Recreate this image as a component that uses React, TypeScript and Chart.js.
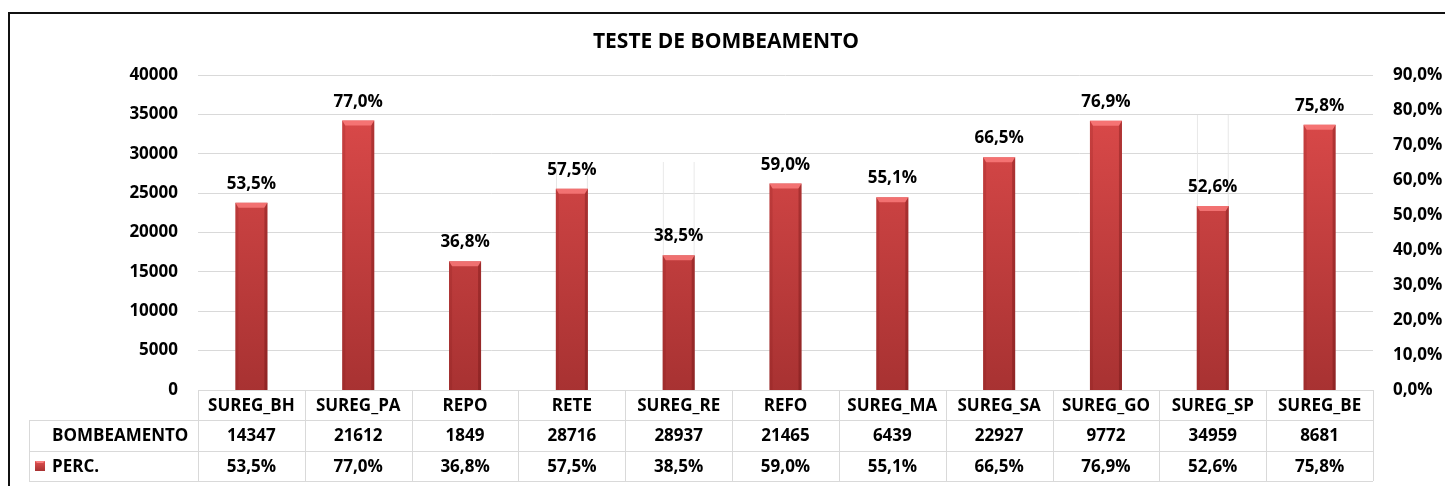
import React, { useEffect, useRef } from "react";
import { Chart, registerables } from "chart.js";

Chart.register(...registerables);

const title = "TESTE DE BOMBEAMENTO";
const categories = [
  "SUREG_BH", "SUREG_PA", "REPO", "RETE", "SUREG_RE", "REFO",
  "SUREG_MA", "SUREG_SA", "SUREG_GO", "SUREG_SP", "SUREG_BE",
];
const seriesNames = ["BOMBEAMENTO", "PERC."];
const bombeamento = [14347, 21612, 1849, 28716, 28937, 21465, 6439, 22927, 9772, 34959, 8681];
const perc = [53.5, 77.0, 36.8, 57.5, 38.5, 59.0, 55.1, 66.5, 76.9, 52.6, 75.8];
const leftAxis = { min: 0, max: 40000, step: 5000 };
const rightAxis = { min: 0, max: 90, step: 10 };

const FONT = '"Open Sans", "DejaVu Sans", sans-serif';
const fmtPct = (v: number) => v.toFixed(1).replace(".", ",") + "%";

export default function App() {
  const ref = useRef<HTMLCanvasElement>(null);

  useEffect(() => {
    let chart: Chart | null = null;
    let cancelled = false;

    const build = () => {
      if (cancelled || !ref.current) return;

      const framePlugin = {
        id: "frame",
        beforeDraw(c: any) {
          const ctx = c.ctx;
          ctx.save();
          ctx.fillStyle = "#ffffff";
          ctx.fillRect(0, 0, c.width, c.height);
          ctx.restore();
        },
        afterDraw(c: any) {
          const ctx = c.ctx;
          const xs = c.scales.x;
          const area = c.chartArea;
          ctx.save();
          // outer chart border
          ctx.fillStyle = "#111111";
          ctx.fillRect(8, 12, 2, c.height - 12);
          ctx.fillRect(8, 12, c.width - 8, 2);
          // title
          ctx.fillStyle = "#000";
          ctx.font = `bold 21px ${FONT}`;
          ctx.textAlign = "center";
          ctx.textBaseline = "middle";
          ctx.fillText(title, 726, 42);

          // data table
          const n = categories.length;
          const colW = (xs.right - xs.left) / n;
          const rows = [area.bottom, area.bottom + 30, area.bottom + 61, area.bottom + 91];
          const labelLeft = 29;
          ctx.strokeStyle = "#d9d9d9";
          ctx.lineWidth = 1;
          ctx.beginPath();
          for (let k = 0; k <= n; k++) {
            const x = Math.round(xs.left + k * colW) + 0.5;
            ctx.moveTo(x, rows[0]);
            ctx.lineTo(x, rows[3]);
          }
          ctx.moveTo(labelLeft + 0.5, rows[1]);
          ctx.lineTo(labelLeft + 0.5, rows[3]);
          for (let r = 1; r < 4; r++) {
            ctx.moveTo(labelLeft, rows[r] + 0.5);
            ctx.lineTo(xs.right, rows[r] + 0.5);
          }
          ctx.moveTo(xs.left, rows[0] + 0.5);
          ctx.lineTo(xs.right, rows[0] + 0.5);
          ctx.stroke();

          ctx.font = `bold 17px ${FONT}`;
          ctx.fillStyle = "#000";
          ctx.textBaseline = "middle";
          ctx.textAlign = "center";
          for (let i = 0; i < n; i++) {
            const cx = xs.getPixelForValue(i);
            ctx.fillText(categories[i], cx, (rows[0] + rows[1]) / 2 + 1);
            ctx.fillText(String(bombeamento[i]), cx, (rows[1] + rows[2]) / 2 + 1);
            ctx.fillText(fmtPct(perc[i]), cx, (rows[2] + rows[3]) / 2 + 1);
          }
          ctx.textAlign = "left";
          ctx.fillText(seriesNames[0], 52, (rows[1] + rows[2]) / 2 + 1);
          ctx.fillText(seriesNames[1], 52, (rows[2] + rows[3]) / 2 + 1);
          // legend key for PERC
          const ky = Math.round((rows[2] + rows[3]) / 2) - 5;
          const g = ctx.createLinearGradient(0, ky, 0, ky + 10);
          g.addColorStop(0, "#e05050");
          g.addColorStop(1, "#a83232");
          ctx.fillStyle = g;
          ctx.fillRect(35, ky, 10, 10);
          ctx.fillStyle = "rgba(255,140,140,0.8)";
          ctx.beginPath();
          ctx.moveTo(35, ky);
          ctx.lineTo(45, ky);
          ctx.lineTo(43, ky + 2);
          ctx.lineTo(37, ky + 2);
          ctx.closePath();
          ctx.fill();
          ctx.restore();
        },
      };

      const barDecor = {
        id: "barDecor",
        afterDatasetsDraw(c: any) {
          const ctx = c.ctx;
          const meta = c.getDatasetMeta(0);
          ctx.save();
          meta.data.forEach((el: any, i: number) => {
            const p = el.getProps(["x", "y", "base", "width"], true);
            const x0 = p.x - p.width / 2;
            const x1 = p.x + p.width / 2;
            const yt = p.y;
            const yb = p.base;
            const b = 5;
            const s = 3;
            // top bevel
            ctx.fillStyle = "rgba(255,130,130,0.75)";
            ctx.beginPath();
            ctx.moveTo(x0, yt);
            ctx.lineTo(x1, yt);
            ctx.lineTo(x1 - s, yt + b);
            ctx.lineTo(x0 + s, yt + b);
            ctx.closePath();
            ctx.fill();
            // left side
            ctx.fillStyle = "rgba(120,20,20,0.18)";
            ctx.beginPath();
            ctx.moveTo(x0, yt);
            ctx.lineTo(x0 + s, yt + b);
            ctx.lineTo(x0 + s, yb);
            ctx.lineTo(x0, yb);
            ctx.closePath();
            ctx.fill();
            // right side
            ctx.fillStyle = "rgba(90,10,10,0.3)";
            ctx.beginPath();
            ctx.moveTo(x1, yt);
            ctx.lineTo(x1 - s, yt + b);
            ctx.lineTo(x1 - s, yb);
            ctx.lineTo(x1, yb);
            ctx.closePath();
            ctx.fill();
            // data label
            ctx.fillStyle = "#000";
            ctx.font = `bold 17px ${FONT}`;
            ctx.textAlign = "center";
            ctx.textBaseline = "alphabetic";
            ctx.fillText(fmtPct(perc[i]), p.x, yt - 14);
          });
          ctx.restore();
        },
      };

      chart = new Chart(ref.current, {
        type: "bar",
        data: {
          labels: categories,
          datasets: [
            {
              label: seriesNames[1],
              data: perc,
              yAxisID: "y1",
              grouped: false,
              order: 0,
              borderWidth: 0,
              backgroundColor: (ctx: any) => {
                const area = ctx.chart.chartArea;
                if (!area) return "#c83c3c";
                const g = ctx.chart.ctx.createLinearGradient(0, area.top, 0, area.bottom);
                g.addColorStop(0, "#e04c4c");
                g.addColorStop(1, "#a83232");
                return g;
              },
              categoryPercentage: 1,
              barPercentage: 0.3,
            } as any,
            {
              label: seriesNames[0],
              data: bombeamento,
              yAxisID: "y",
              grouped: false,
              order: 1,
              backgroundColor: "rgba(0,0,0,0)",
              borderColor: "#e2e2e2",
              borderWidth: { top: 0, bottom: 0, left: 1, right: 1 },
              categoryPercentage: 1,
              barPercentage: 0.3,
            } as any,
          ],
        },
        options: {
          responsive: false,
          animation: false,
          devicePixelRatio: 1,
          layout: { padding: { top: 75, bottom: 96, left: 0, right: 0 } },
          plugins: {
            legend: { display: false },
            tooltip: { enabled: false },
            title: { display: false },
          },
          scales: {
            x: { display: false, offset: true, grid: { display: false } },
            y: {
              position: "left",
              min: leftAxis.min,
              max: leftAxis.max,
              ticks: {
                stepSize: leftAxis.step,
                padding: 20,
                color: "#000",
                font: { family: FONT, size: 17, weight: "bold" },
                callback: (v: any) => String(v),
              },
              grid: { color: "#d9d9d9", drawTicks: false, lineWidth: 1 },
              border: { display: false },
              afterFit: (s: any) => { s.width = 198; },
            },
            y1: {
              position: "right",
              min: rightAxis.min,
              max: rightAxis.max,
              ticks: {
                stepSize: rightAxis.step,
                padding: 20,
                color: "#000",
                font: { family: FONT, size: 17, weight: "bold" },
                callback: (v: any) => fmtPct(Number(v)),
              },
              grid: { display: false, drawTicks: false },
              border: { display: false },
              afterFit: (s: any) => { s.width = 72; },
            },
          },
        } as any,
        plugins: [framePlugin, barDecor],
      });
    };

    const fonts: any = (document as any).fonts;
    if (fonts && fonts.load) {
      fonts.load(`bold 17px "Open Sans"`).then(build, build);
    } else {
      build();
    }

    return () => {
      cancelled = true;
      if (chart) chart.destroy();
      chart = null;
    };
  }, []);

  return (
    <div style={{ position: "fixed", left: 0, top: 0, width: 1445, height: 486, background: "#fff" }}>
      <canvas ref={ref} width={1445} height={486} style={{ width: 1445, height: 486, display: "block" }} />
    </div>
  );
}
